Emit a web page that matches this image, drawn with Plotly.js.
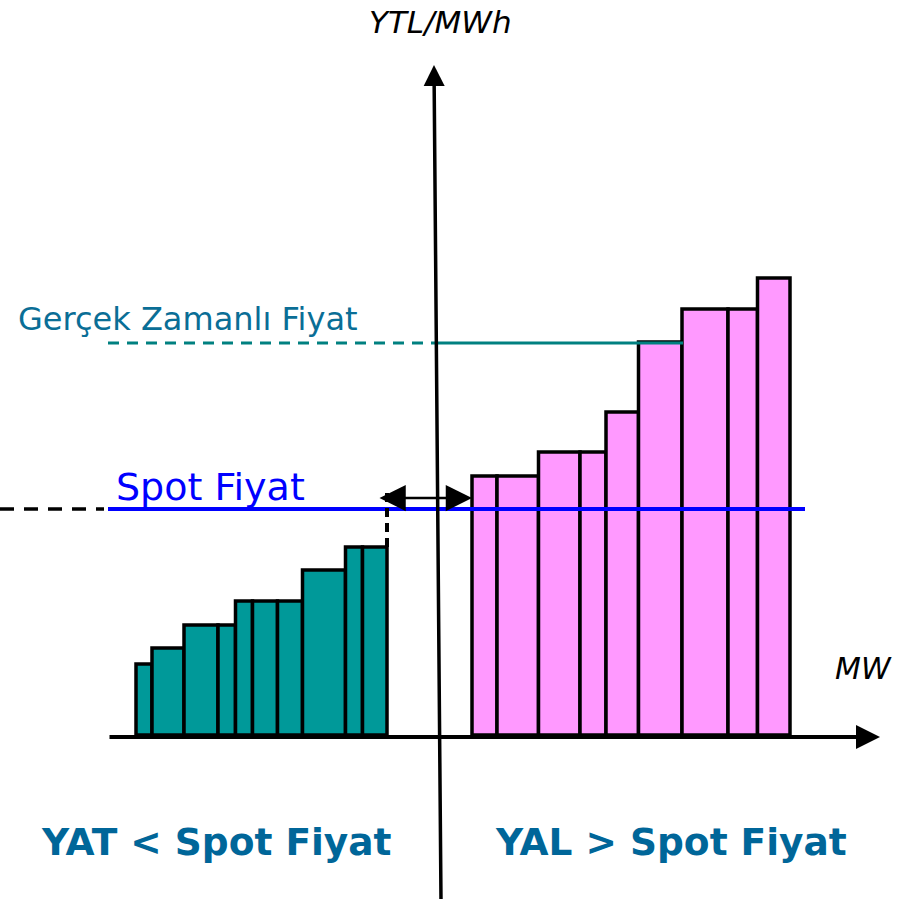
<!DOCTYPE html>
<html>
<head>
<meta charset="utf-8">
<script src="https://cdn.plot.ly/plotly-3.0.1.min.js"></script>
<style>
  html, body { margin: 0; padding: 0; background: #fff; }
  #chart { width: 913px; height: 899px; }
</style>
</head>
<body>
<div id="chart"></div>
<script>
// Bids below the spot price (YAT) - block widths in MW and prices
const yatStart = -30.1;
const yatWidths = [1.6, 3.2, 3.4, 1.75, 1.7, 2.5, 2.5, 4.3, 1.7, 2.45];
const yatPrices = [7.1, 8.7, 11.0, 11.0, 13.4, 13.4, 13.4, 16.5, 18.8, 18.8];

// Offers above the spot price (YAL)
const yalStart = 3.5;
const yalWidths = [2.5, 4.15, 4.15, 2.6, 3.25, 4.35, 4.6, 2.95, 3.25];
const yalPrices = [25.9, 25.9, 28.3, 28.3, 32.3, 39.3, 42.6, 42.6, 45.7];

const spotPrice = 22.6;
const realTimePrice = 39.2;

// centers of blocks laid side by side
function centers(start, widths) {
  const out = [];
  let x = start;
  widths.forEach(w => { out.push(x + w / 2); x += w; });
  return out;
}
function endOf(start, widths) {
  return widths.reduce((a, b) => a + b, start);
}

const yatEnd = endOf(yatStart, yatWidths);

const traces = [
  {
    type: 'bar',
    x: centers(yatStart, yatWidths),
    y: yatPrices,
    width: yatWidths,
    marker: { color: '#009999', line: { color: '#000', width: 3.5 } },
    hoverinfo: 'skip'
  },
  {
    type: 'bar',
    x: centers(yalStart, yalWidths),
    y: yalPrices,
    width: yalWidths,
    marker: { color: '#ff99ff', line: { color: '#000', width: 3.5 } },
    hoverinfo: 'skip'
  }
];

const shapes = [
  // real-time price: dashed on the left, solid up to the 6th YAL block
  { type: 'line', x0: -32.9, x1: -0.2, y0: realTimePrice, y1: realTimePrice,
    line: { color: '#008080', width: 3, dash: '11px,8px' } },
  { type: 'line', x0: -0.2, x1: 24.6, y0: realTimePrice, y1: realTimePrice,
    line: { color: '#008080', width: 3 } },
  // spot price
  { type: 'line', x0: -43.7, x1: -33.3, y0: spotPrice, y1: spotPrice,
    line: { color: '#000', width: 3.5, dash: '14px,10px' } },
  { type: 'line', x0: -32.9, x1: 36.8, y0: spotPrice, y1: spotPrice,
    line: { color: '#0000ff', width: 4 } },
  // dashed step from last YAT block up to the spot line
  { type: 'line', x0: yatEnd, x1: yatEnd, y0: 18.8, y1: 24.6,
    line: { color: '#000', width: 4, dash: '9px,6px' } }
];

const txt = (text, x, y, size, color, anchor) => ({
  text: text, x: x, y: y, xref: 'x', yref: 'y', showarrow: false,
  xanchor: anchor, yanchor: 'middle',
  font: { family: 'DejaVu Sans, Verdana, sans-serif', size: size, color: color }
});

const annotations = [
  // y axis (slightly tilted) with arrow
  { x: -0.3, y: 67.0, ax: 0.4, ay: -16.6, xref: 'x', yref: 'y', axref: 'x', ayref: 'y',
    text: '', showarrow: true, arrowhead: 2, arrowsize: 1.2, arrowwidth: 3.5, arrowcolor: '#000' },
  // x axis with arrow
  { x: 44.3, y: -0.2, ax: -32.9, ay: -0.2, xref: 'x', yref: 'y', axref: 'x', ayref: 'y',
    text: '', showarrow: true, arrowhead: 2, arrowsize: 1.2, arrowwidth: 4, arrowcolor: '#000' },
  // double arrow between YAT end and YAL start
  { x: yalStart, y: 23.7, ax: yatEnd - 0.9, ay: 23.7, xref: 'x', yref: 'y', axref: 'x', ayref: 'y',
    text: '', showarrow: true, arrowhead: 2, startarrowhead: 2, arrowside: 'end+start',
    arrowsize: 2.1, startarrowsize: 2.1, arrowwidth: 2.5, arrowcolor: '#000' },
  txt('<i>YTL/MWh</i>', 0.3, 71.3, 31, '#000', 'center'),
  txt('<i>MW</i>', 39.6, 6.7, 30, '#000', 'left'),
  txt('Gerçek Zamanlı Fiyat', -42.1, 41.6, 32, '#0a6e96', 'left'),
  txt('Spot Fiyat', -32.3, 24.8, 38, '#0000ff', 'left'),
  txt('<b>YAT &lt; Spot Fiyat</b>', -22.1, -10.7, 37.5, '#006699', 'center'),
  txt('<b>YAL &gt; Spot Fiyat</b>', 23.4, -10.7, 37.5, '#006699', 'center')
];

const hidden = { visible: false, showgrid: false, zeroline: false, fixedrange: true };

const layout = {
  width: 913,
  height: 899,
  margin: { l: 0, r: 0, t: 0, b: 0 },
  paper_bgcolor: '#fff',
  plot_bgcolor: '#fff',
  showlegend: false,
  bargap: 0,
  xaxis: Object.assign({ range: [-43.7, 47.6] }, hidden),
  yaxis: Object.assign({ range: [-16.4, 73.5] }, hidden),
  shapes: shapes,
  annotations: annotations
};

Plotly.newPlot('chart', traces, layout, { displayModeBar: false, staticPlot: true });
</script>
</body>
</html>
